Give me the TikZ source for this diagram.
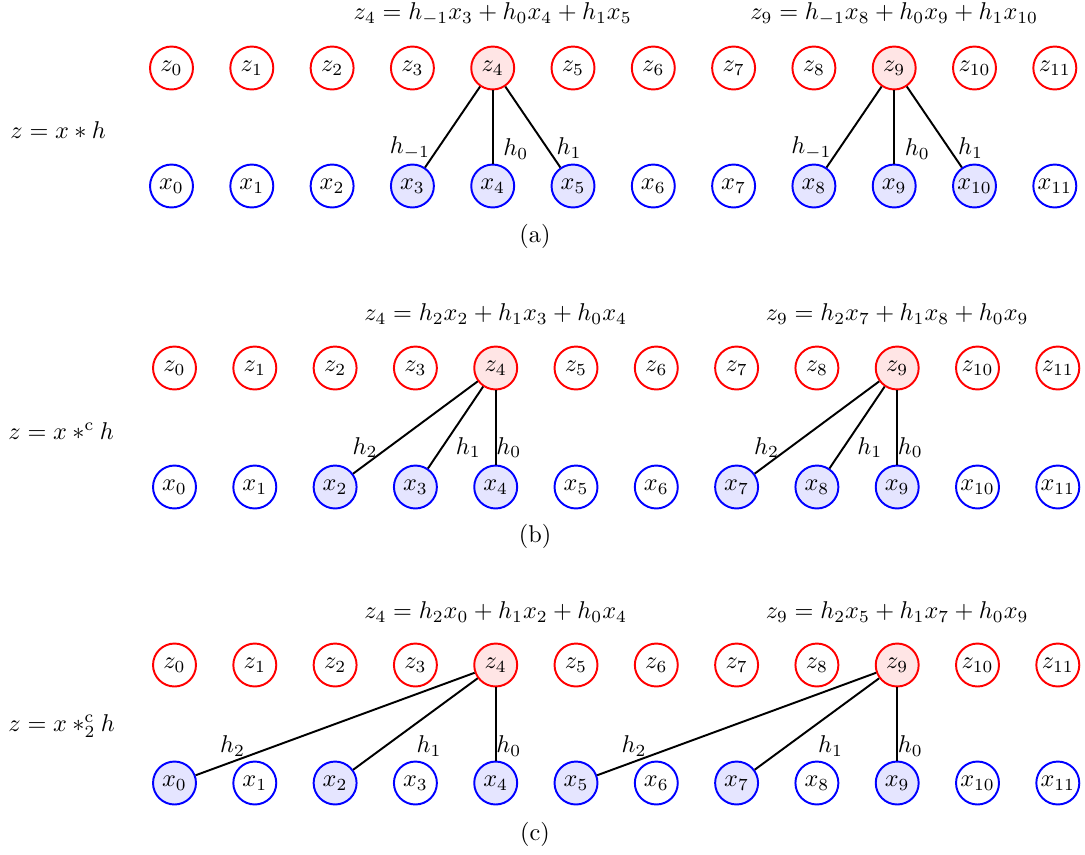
\documentclass[tikz,border=0pt]{standalone}
\usetikzlibrary{positioning}
\tikzset{
  zcell/.style={circle,draw=red,thick,minimum size=17.7pt,inner sep=0pt},
  xcell/.style={circle,draw=blue,thick,minimum size=17.7pt,inner sep=0pt},
  zsel/.style={fill=red!10},
  xsel/.style={fill=blue!10},
  tap/.style={thick},
  % highlighted cells of each panel
  az4/.style={zsel},az9/.style={zsel},
  ax3/.style={xsel},ax4/.style={xsel},ax5/.style={xsel},
  ax8/.style={xsel},ax9/.style={xsel},ax10/.style={xsel},
  bz4/.style={zsel},bz9/.style={zsel},
  bx2/.style={xsel},bx3/.style={xsel},bx4/.style={xsel},
  bx7/.style={xsel},bx8/.style={xsel},bx9/.style={xsel},
  cz4/.style={zsel},cz9/.style={zsel},
  cx0/.style={xsel},cx2/.style={xsel},cx4/.style={xsel},
  cx5/.style={xsel},cx7/.style={xsel},cx9/.style={xsel},
}
\newcommand{\cells}[4]{% prefix, first column, z row, x row
  \foreach \i in {0,...,11} {
    \node[zcell,#1z\i/.try] (#1z\i) at (#2+80.3*\i,#3) {$z_{\i}$};
    \node[xcell,#1x\i/.try] (#1x\i) at (#2+80.3*\i,#4) {$x_{\i}$};
  }}
\newcommand{\tap}[5]{% z cell, x cell, label offset from x cell, label
  \draw[tap] (#1) -- (#2);
  \node (#1#2) at ([shift={(#3,#4)}]#2) {#5};}

\begin{document}
\begin{tikzpicture}[x=0.412pt,y=-0.412pt]
  \useasboundingbox (0,0) rectangle (1085,854);

  % (a) linear convolution
  \cells{a}{171.5}{68}{186}
  \node[anchor=west,inner sep=0pt] (opa) at (10,130) {$z = x * h$};
  \node (eqa4) at (az4 |- 0,14) {$z_4 = h_{-1}x_3 + h_0x_4 + h_1x_5$};
  \node (eqa9) at (az9 |- 0,14) {$z_9 = h_{-1}x_8 + h_0x_9 + h_1x_{10}$};
  \tap{az4}{ax3}{-2.5}{-38}{$h_{-1}$}
  \tap{az4}{ax4}{23}{-37}{$h_0$}
  \tap{az4}{ax5}{-4}{-38}{$h_1$}
  \tap{az9}{ax8}{-2.5}{-38}{$h_{-1}$}
  \tap{az9}{ax9}{23}{-37}{$h_0$}
  \tap{az9}{ax10}{-4}{-38}{$h_1$}
  \node (capa) at (535,236) {(a)};

  % (b) causal convolution
  \cells{b}{174.5}{368}{487}
  \node[anchor=west,inner sep=0pt] (opb) at (8,431) {$z = x *^{\mathrm{c}} h$};
  \node (eqb4) at (bz4 |- 0,314) {$z_4 = h_2x_2 + h_1x_3 + h_0x_4$};
  \node (eqb9) at (bz9 |- 0,314) {$z_9 = h_2x_7 + h_1x_8 + h_0x_9$};
  \tap{bz4}{bx2}{30}{-39.5}{$h_2$}
  \tap{bz4}{bx3}{53}{-39.5}{$h_1$}
  \tap{bz4}{bx4}{13}{-39.5}{$h_0$}
  \tap{bz9}{bx7}{30}{-39.5}{$h_2$}
  \tap{bz9}{bx8}{53}{-39.5}{$h_1$}
  \tap{bz9}{bx9}{13}{-39.5}{$h_0$}
  \node (capb) at (535,536) {(b)};

  % (c) dilated causal convolution
  \cells{c}{174.5}{665}{783}
  \node[anchor=west,inner sep=0pt] (opc) at (8,726) {$z = x *^{\mathrm{c}}_2 h$};
  \node (eqc4) at (cz4 |- 0,612) {$z_4 = h_2x_0 + h_1x_2 + h_0x_4$};
  \node (eqc9) at (cz9 |- 0,612) {$z_9 = h_2x_5 + h_1x_7 + h_0x_9$};
  \tap{cz4}{cx0}{58}{-37}{$h_2$}
  \tap{cz4}{cx2}{94}{-37}{$h_1$}
  \tap{cz4}{cx4}{13}{-37}{$h_0$}
  \tap{cz9}{cx5}{58}{-37}{$h_2$}
  \tap{cz9}{cx7}{94}{-37}{$h_1$}
  \tap{cz9}{cx9}{13}{-37}{$h_0$}
  \node (capc) at (535,834) {(c)};
\end{tikzpicture}
\end{document}
